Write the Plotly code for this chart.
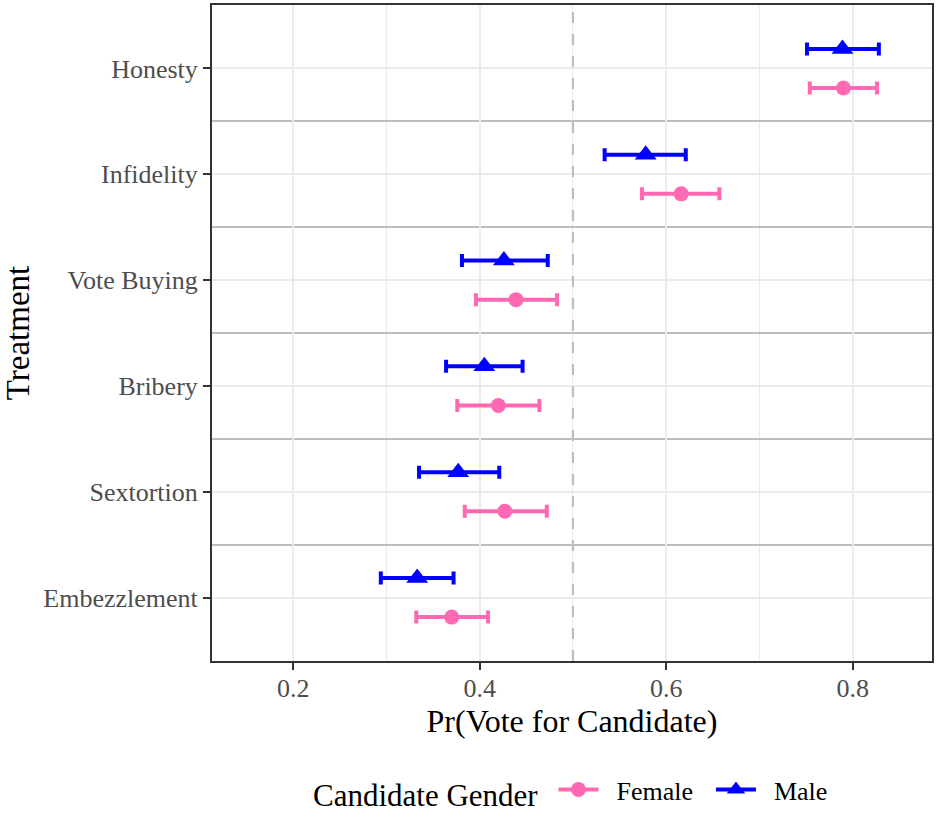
import plotly.graph_objects as go

# ---- data ----
treatments = ["Embezzlement", "Sextortion", "Bribery", "Vote Buying", "Infidelity", "Honesty"]

female_est = [0.370, 0.427, 0.420, 0.439, 0.616, 0.790]
female_lo = [0.332, 0.384, 0.376, 0.396, 0.574, 0.754]
female_hi = [0.409, 0.472, 0.464, 0.483, 0.657, 0.826]

male_est = [0.333, 0.377, 0.405, 0.426, 0.578, 0.789]
male_lo = [0.294, 0.335, 0.364, 0.381, 0.534, 0.751]
male_hi = [0.372, 0.421, 0.446, 0.473, 0.621, 0.828]

reference_value = 0.5
x_ticks = [0.2, 0.4, 0.6, 0.8]
x_minor = [0.3, 0.5, 0.7]

FEMALE = "#FF69B4"
MALE = "#0000FF"
DODGE = 0.185
FONT = "Liberation Serif"
NB = "\u00a0"

pos = list(range(len(treatments)))
y_range = [-0.6, len(treatments) - 0.4]

fig = go.Figure()

# dashed reference line
fig.add_trace(go.Scatter(
    x=[reference_value, reference_value], y=y_range, mode="lines",
    line=dict(color="#BEBEBE", width=2.2, dash="11px,11px"),
    showlegend=False, hoverinfo="skip",
))


def add_series(name, est, lo, hi, color, symbol, size, offset):
    fig.add_trace(go.Scatter(
        x=est,
        y=[p + offset for p in pos],
        mode="markers",
        name=name,
        showlegend=False,
        marker=dict(color=color, symbol=symbol, size=size, line=dict(width=0)),
        error_x=dict(
            type="data",
            symmetric=False,
            array=[h - e for h, e in zip(hi, est)],
            arrayminus=[e - l for e, l in zip(est, lo)],
            color=color,
            thickness=4,
            width=6.5,
        ),
    ))


add_series("Female", female_est, female_lo, female_hi, FEMALE, "circle", 15, -DODGE)
add_series("Male", male_est, male_lo, male_hi, MALE, "triangle-up", 19, DODGE)

# legend entries (line + marker keys)
for name, color, symbol, size in [(NB * 2 + "Female" + NB * 2, FEMALE, "circle", 15),
                                  (NB * 2 + "Male", MALE, "triangle-up", 19)]:
    fig.add_trace(go.Scatter(
        x=[None], y=[None], mode="lines+markers", name=name,
        line=dict(color=color, width=4),
        marker=dict(color=color, symbol=symbol, size=size),
    ))

fig.update_layout(
    width=937, height=817,
    margin=dict(l=212, r=3, t=4, b=156),
    paper_bgcolor="white",
    plot_bgcolor="white",
    font=dict(family=FONT, color="black"),
    showlegend=True,
    legend=dict(
        orientation="h",
        x=0.5, xanchor="center", xref="paper",
        y=-0.013, yanchor="bottom", yref="container",
        title=dict(text="Candidate Gender ", side="left", font=dict(size=31, color="black")),
        font=dict(size=26, color="black"),
        itemwidth=40,
        bgcolor="rgba(0,0,0,0)",
    ),
    xaxis=dict(
        range=[0.113, 0.885],
        tickvals=x_ticks,
        ticktext=[f"{v:.1f}" for v in x_ticks],
        tickfont=dict(size=26, color="#4D4D4D", family=FONT),
        ticks="outside", ticklen=7, tickwidth=2, tickcolor="#333333",
        ticklabelstandoff=-4,
        showgrid=True, gridcolor="#EBEBEB", gridwidth=2,
        minor=dict(tickvals=x_minor, showgrid=True, gridcolor="#EBEBEB", gridwidth=1.2, ticks=""),
        showline=True, linecolor="#333333", linewidth=2, mirror=True,
        zeroline=False,
        title=dict(text="Pr(Vote for Candidate)", font=dict(size=32, color="black", family=FONT), standoff=0),
    ),
    yaxis=dict(
        range=y_range,
        tickvals=pos,
        ticktext=treatments,
        tickfont=dict(size=26, color="#4D4D4D", family=FONT),
        ticks="outside", ticklen=7, tickwidth=2, tickcolor="#333333",
        showgrid=True, gridcolor="#EBEBEB", gridwidth=2,
        minor=dict(tickvals=[p + 0.5 for p in pos[:-1]], showgrid=True, gridcolor="#BEBEBE", gridwidth=2, ticks=""),
        showline=True, linecolor="#333333", linewidth=2, mirror=True,
        zeroline=False,
        title=dict(text="Treatment", font=dict(size=33, color="black", family=FONT), standoff=8),
    ),
)

fig.write_html("out.html")
